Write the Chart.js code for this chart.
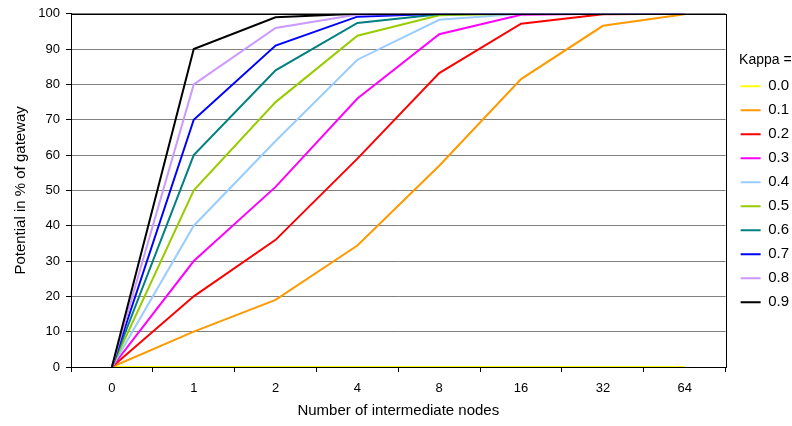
<!DOCTYPE html>
<html>
<head>
<meta charset="utf-8">
<script src="https://cdn.jsdelivr.net/npm/chart.js@4/dist/chart.umd.min.js"></script>
<style>
  html, body { margin: 0; padding: 0; background: #fff; }
  #wrap { width: 792px; height: 426px; }
</style>
</head>
<body>
<div id="wrap"><canvas id="chart"></canvas></div>
<script>
// nodes on the x axis
const nodes = [`0`, `1`, `2`, `4`, `8`, `16`, `32`, `64`];
const yTicks = [0, 10, 20, 30, 40, 50, 60, 70, 80, 90, 100];

// one list per kappa value
const kappaLabels = [`0.0`, `0.1`, `0.2`, `0.3`, `0.4`, `0.5`, `0.6`, `0.7`, `0.8`, `0.9`];
const k00 = [0, 0, 0, 0, 0, 0, 0, 0];
const k01 = [0, 10, 19, 34.4, 57, 81.5, 96.6, 99.9];
const k02 = [0, 20, 36, 59, 83.2, 97.2, 99.9, 100];
const k03 = [0, 30, 51, 76, 94.2, 99.7, 100, 100];
const k04 = [0, 40, 64, 87, 98.3, 100, 100, 100];
const k05 = [0, 50, 75, 93.8, 99.6, 100, 100, 100];
const k06 = [0, 60, 84, 97.4, 99.9, 100, 100, 100];
const k07 = [0, 70, 91, 99.2, 100, 100, 100, 100];
const k08 = [0, 80, 96, 99.8, 100, 100, 100, 100];
const k09 = [0, 90, 99, 100, 100, 100, 100, 100];
const kappaValues = [k00, k01, k02, k03, k04, k05, k06, k07, k08, k09];
const kappaColors = [`#FFFF00`, `#FF9900`, `#FF0000`, `#FF00FF`, `#99CCFF`,
                     `#99CC00`, `#008080`, `#0000FF`, `#CC99FF`, `#000000`];

const font = `"Liberation Sans", Arial, sans-serif`;

// black frame round the plot area, like the spreadsheet original
const frame = {
    id: `frame`,
    afterDatasetsDraw(chart) {
        const a = chart.chartArea, c = chart.ctx;
        c.save();
        c.strokeStyle = `#000`;
        c.lineWidth = 1;
        c.strokeRect(Math.round(a.left) + 0.5, Math.round(a.top) + 0.5,
                     Math.round(a.right - a.left), Math.round(a.bottom - a.top));
        c.restore();
    }
};

const datasets = kappaLabels.map((lbl, i) => ({
    label: lbl,
    data: kappaValues[i],
    borderColor: kappaColors[i],
    backgroundColor: kappaColors[i],
    borderWidth: 2,
    pointRadius: 0,
    tension: 0,
    order: 10 - i
}));

new Chart(document.getElementById(`chart`).getContext(`2d`), {
    type: `line`,
    data: { labels: nodes, datasets: datasets },
    plugins: [frame],
    options: {
        responsive: true,
        maintainAspectRatio: false,
        animation: false,
        layout: { padding: { left: 4, right: -7, top: 7, bottom: 0 } },
        plugins: {
            tooltip: { enabled: false },
            legend: {
                position: `right`,
                align: `start`,
                title: {
                    display: true,
                    text: `Kappa =`,
                    position: `center`,
                    color: `#000`,
                    font: { family: font, size: 14 },
                    padding: { top: 46, bottom: 0 }
                },
                labels: {
                    usePointStyle: true,
                    pointStyle: `line`,
                    pointStyleWidth: 20,
                    padding: 9,
                    color: `#000`,
                    font: { family: font, size: 15 },
                    sort: (a, b) => a.datasetIndex - b.datasetIndex
                }
            }
        },
        scales: {
            x: {
                offset: true,
                afterFit: s => { s.height = 59; },
                grid: { display: true, drawOnChartArea: false, offset: true, color: `#000`, tickLength: 5 },
                border: { color: `#000` },
                ticks: { color: `#000`, font: { family: font, size: 13 }, padding: 9, maxRotation: 0 },
                title: { display: true, text: `Number of intermediate nodes`, color: `#000`,
                         font: { family: font, size: 15 }, padding: { top: 0, bottom: 6 } }
            },
            y: {
                min: 0,
                max: 100,
                afterBuildTicks: s => { s.ticks = yTicks.map(v => ({ value: v })); },
                afterFit: s => { s.width = 67; },
                grid: { color: `#808080`, tickColor: `#000`, tickLength: 5 },
                border: { color: `#000` },
                ticks: { color: `#000`, font: { family: font, size: 13 }, padding: 6 },
                title: { display: true, text: `Potential in % of gateway`, color: `#000`,
                         font: { family: font, size: 15 }, padding: { top: 8, bottom: 0 } }
            },
            // empty spacer between the plot and the legend
            gap: {
                type: `linear`,
                position: `right`,
                display: true,
                afterFit: s => { s.width = 6; },
                grid: { display: false },
                border: { display: false },
                ticks: { display: false }
            }
        }
    }
});
</script>
</body>
</html>
